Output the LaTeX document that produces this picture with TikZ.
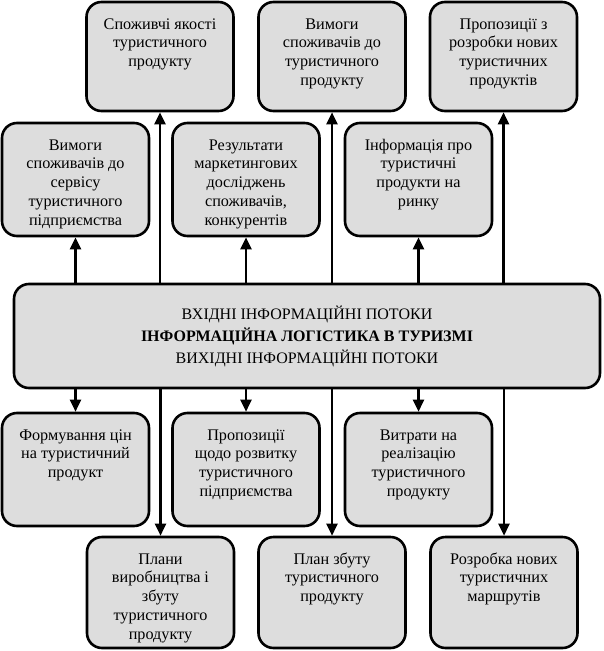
\documentclass[tikz,border=0pt]{standalone}
\usepackage{fontspec}
\setmainfont{Liberation Serif}
\usetikzlibrary{arrows.meta}
\definecolor{boxgray}{RGB}{221,221,221}
\newcommand{\bt}[2]{\parbox[c][#1][t]{146pt}{\centering\rule{0pt}{27pt}#2}}
\begin{document}
\begin{tikzpicture}[x=1pt,y=-1pt,
  box/.style={draw, line width=2.6pt, rounded corners=15pt, fill=boxgray, inner sep=0pt,
    minimum width=147pt, font=\fontsize{16.2}{18.8}\selectfont},
  arr/.style={line width=2.5pt, -{Triangle[length=12pt,width=11pt]}}]
\useasboundingbox (0,0) rectangle (603,651);
% top row
\node[box, minimum height=109pt] (A) at (160,56.5) {\bt{109pt}{Споживчі якості\\туристичного\\продукту}};
\node[box, minimum height=109pt] (B) at (332,56.5) {\bt{109pt}{Вимоги\\споживачів до\\туристичного\\продукту}};
\node[box, minimum height=109pt] (C) at (503.5,56.5) {\bt{109pt}{Пропозиції з\\розробки нових\\туристичних\\продуктів}};
% second row
\node[box, minimum height=113pt] (D) at (75.5,179.5) {\bt{113pt}{Вимоги\\споживачів до\\сервісу\\туристичного\\підприємства}};
\node[box, minimum height=113pt] (E) at (246,179.5) {\bt{113pt}{Результати\\маркетингових\\досліджень\\споживачів,\\конкурентів}};
\node[box, minimum height=113pt] (F) at (418.5,179.5) {\bt{113pt}{Інформація про\\туристичні\\продукти на\\ринку}};
% central
\node[box, minimum width=586pt, minimum height=104pt, align=center, font=\fontsize{16}{22}\selectfont] (M) at (307,336)
  {ВХІДНІ ІНФОРМАЦІЙНІ ПОТОКИ\\\textbf{ІНФОРМАЦІЙНА ЛОГІСТИКА В ТУРИЗМІ}\\ВИХІДНІ ІНФОРМАЦІЙНІ ПОТОКИ};
% third row
\node[box, minimum height=113pt] (G) at (75.5,469.5) {\bt{113pt}{Формування цін\\на туристичний\\продукт}};
\node[box, minimum height=113pt] (H) at (246,469.5) {\bt{113pt}{Пропозиції\\щодо розвитку\\туристичного\\підприємства}};
\node[box, minimum height=113pt] (I) at (418.5,469.5) {\bt{113pt}{Витрати на\\реалізацію\\туристичного\\продукту}};
% fourth row
\node[box, minimum height=111pt] (J) at (160.5,592.5) {\bt{111pt}{Плани\\виробництва і\\збуту\\туристичного\\продукту}};
\node[box, minimum height=111pt] (K) at (332,592.5) {\bt{111pt}{План збуту\\туристичного\\продукту}};
\node[box, minimum height=111pt] (L) at (504,592.5) {\bt{111pt}{Розробка нових\\туристичних\\маршрутів}};
% arrows up
\draw[arr] (D.south |- M.north) -- (D.south);
\draw[arr] (A.south |- M.north) -- (A.south);
\draw[arr] (E.south |- M.north) -- (E.south);
\draw[arr] (B.south |- M.north) -- (B.south);
\draw[arr] (F.south |- M.north) -- (F.south);
\draw[arr] (C.south |- M.north) -- (C.south);
% arrows down
\draw[arr] (G.north |- M.south) -- (G.north);
\draw[arr] (J.north |- M.south) -- (J.north);
\draw[arr] (H.north |- M.south) -- (H.north);
\draw[arr] (K.north |- M.south) -- (K.north);
\draw[arr] (I.north |- M.south) -- (I.north);
\draw[arr] (L.north |- M.south) -- (L.north);
\end{tikzpicture}
\end{document}
